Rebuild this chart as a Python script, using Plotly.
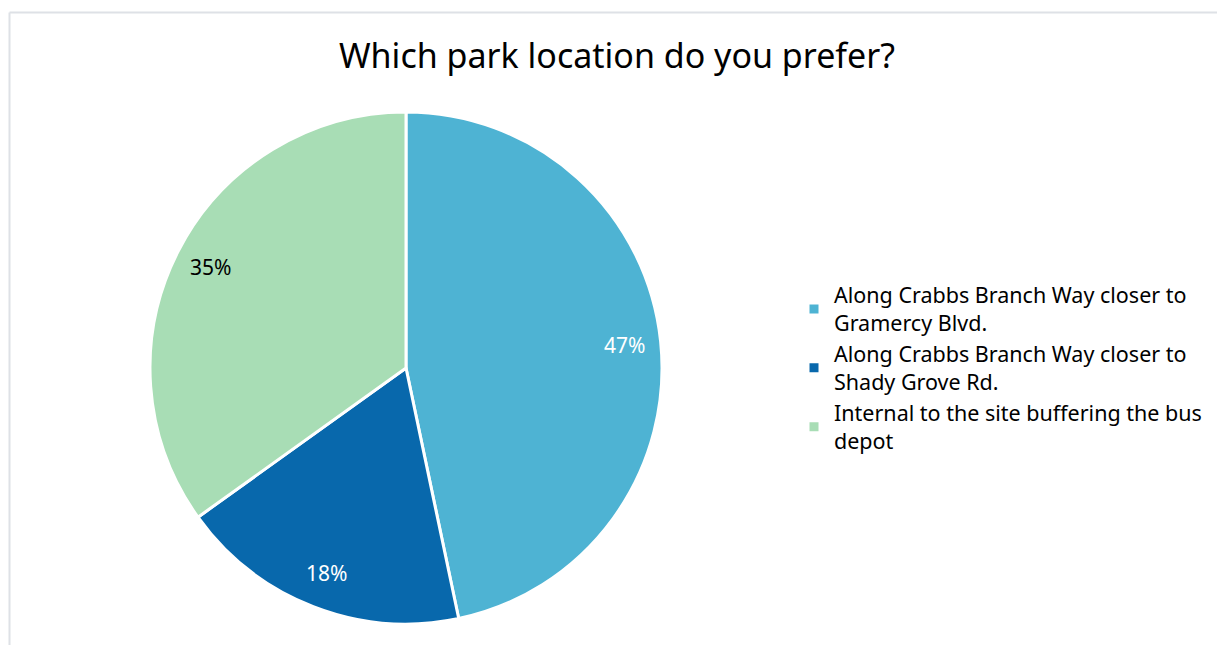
import math
import plotly.graph_objects as go

title_text = "Which park location do you prefer?"
labels = [
    "Along Crabbs Branch Way closer to<br>Gramercy Blvd.",
    "Along Crabbs Branch Way closer to<br>Shady Grove Rd.",
    "Internal to the site buffering the bus<br>depot",
]
values = [46.7, 18.4, 34.9]
colors = ["#4EB3D3", "#0868AC", "#A8DDB5"]
text_colors = ["#FFFFFF", "#FFFFFF", "#000000"]

W, H = 1217, 645
# pie geometry in pixels
cx, cy, R = 406, 368, 256
label_r = 0.86

fig = go.Figure(
    go.Pie(
        labels=labels,
        values=values,
        sort=False,
        direction="clockwise",
        rotation=0,
        marker=dict(colors=colors, line=dict(color="#FFFFFF", width=3)),
        textinfo="none",
        domain=dict(x=[(cx - R) / W, (cx + R) / W], y=[1 - (cy + R) / H, 1 - (cy - R) / H]),
        hoverinfo="label+percent",
    )
)

# percentage labels placed along each slice's bisector (computed from the values)
total = sum(values)
annotations = []
cum = 0
for v, tc in zip(values, text_colors):
    mid = (cum + v / 2) / total * 2 * math.pi
    cum += v
    px = cx + label_r * R * math.sin(mid)
    py = cy - label_r * R * math.cos(mid)
    annotations.append(
        dict(
            x=px / W, y=1 - py / H, xref="paper", yref="paper",
            text=f"{round(v / total * 100)}%", showarrow=False,
            xanchor="center", yanchor="middle",
            font=dict(size=21, color=tc, family="Noto Sans"),
        )
    )

fig.update_layout(
    width=W,
    height=H,
    margin=dict(l=0, r=0, t=0, b=0),
    paper_bgcolor="#FFFFFF",
    plot_bgcolor="#FFFFFF",
    font=dict(family="Noto Sans", color="#000000"),
    title=dict(
        text=title_text,
        x=617 / W,
        xanchor="center",
        y=1 - 56 / H,
        yanchor="middle",
        font=dict(size=34, family="Noto Sans", color="#000000"),
    ),
    showlegend=True,
    legend=dict(
        x=794 / W,
        xanchor="left",
        y=1 - 368 / H,
        yanchor="middle",
        font=dict(size=21.5, family="Noto Sans", color="#000000"),
        bgcolor="rgba(0,0,0,0)",
        itemwidth=30,
    ),
    annotations=annotations,
    shapes=[
        dict(type="line", xref="paper", yref="paper", x0=9.5 / W, x1=1.02, y0=1 - 12.5 / H, y1=1 - 12.5 / H,
             line=dict(color="#DEE1E6", width=2)),
        dict(type="line", xref="paper", yref="paper", x0=9.5 / W, x1=9.5 / W, y0=1 - 12.5 / H, y1=-0.02,
             line=dict(color="#DEE1E6", width=2)),
    ],
)

fig.write_html("out.html")
